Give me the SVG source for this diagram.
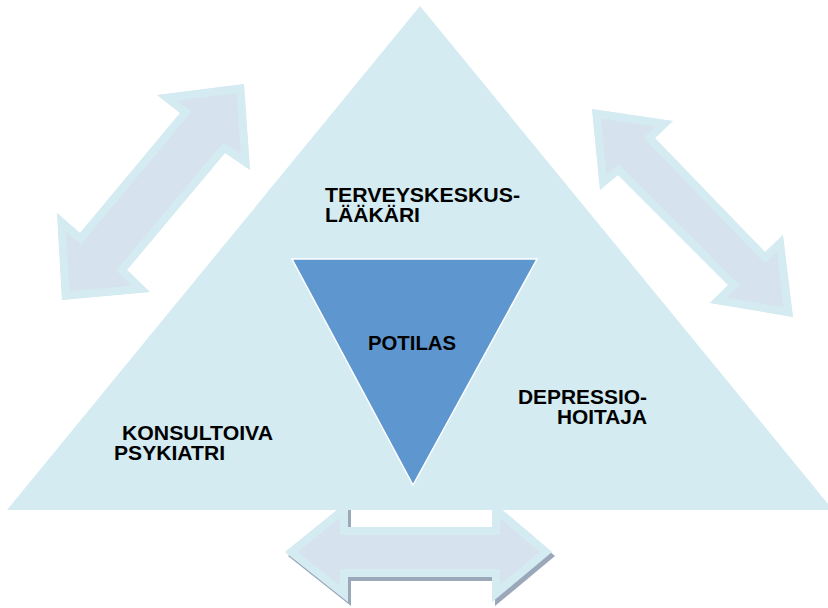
<svg xmlns="http://www.w3.org/2000/svg" width="828" height="608" viewBox="0 0 828 608">
<style>
.lbl{font-family:"Liberation Sans",Arial,sans-serif;font-weight:bold;font-size:20px;fill:#000}
.arrowFill{fill:#d6e3ef;stroke:#d3ebf1;stroke-width:16;stroke-linejoin:miter}
</style>
<defs>
<polygon id="pl" points="244,84 250,170 225,153 127,270 150,292 62,300 57,213 80,233 180,113 157,95"/>
<polygon id="pr" points="592,109 673,121 655,138 765,252 783,235 793,317 710,303 728,285 618,175 600,190"/>
<polygon id="pb" points="285,552 348,501 348,527 492,527 492,501 552,552 492,602 492,577 348,577 348,602"/>
<clipPath id="cl"><polygon points="244,84 250,170 225,153 127,270 150,292 62,300 57,213 80,233 180,113 157,95"/></clipPath>
<clipPath id="cr"><polygon points="592,109 673,121 655,138 765,252 783,235 793,317 710,303 728,285 618,175 600,190"/></clipPath>
<clipPath id="cb"><polygon points="285,552 348,501 348,527 492,527 492,501 552,552 492,602 492,577 348,577 348,602"/></clipPath>
</defs>
<g id="connectors">
<g id="arrow-bottom">
<use href="#pb" transform="translate(3,4)" fill="#9aa8ba"/>
<use href="#pb" class="arrowFill" clip-path="url(#cb)"/>
</g>
<g id="arrow-left">
<use href="#pl" class="arrowFill" clip-path="url(#cl)"/>
</g>
<g id="arrow-right">
<use href="#pr" class="arrowFill" clip-path="url(#cr)"/>
</g>
</g>
<g id="outer-triangle">
<polygon points="420,6 7,510 833,510" fill="#d3ebf1"/>
</g>
<g id="node-terveyskeskuslaakari">
<text class="lbl" x="325" y="202" textLength="195" lengthAdjust="spacingAndGlyphs">TERVEYSKESKUS-</text>
<text class="lbl" x="325" y="222" textLength="95" lengthAdjust="spacingAndGlyphs">LÄÄKÄRI</text>
</g>
<g id="node-potilas">
<polygon points="292,259 537,259 413,485" fill="#5e97cf" stroke="#ffffff" stroke-width="1.5"/>
<text class="lbl" x="368" y="350" textLength="88" lengthAdjust="spacingAndGlyphs">POTILAS</text>
</g>
<g id="node-depressiohoitaja">
<text class="lbl" x="518" y="404" textLength="129" lengthAdjust="spacingAndGlyphs">DEPRESSIO-</text>
<text class="lbl" x="557" y="424" textLength="90" lengthAdjust="spacingAndGlyphs">HOITAJA</text>
</g>
<g id="node-konsultoivapsykiatri">
<text class="lbl" x="122" y="440" textLength="151" lengthAdjust="spacingAndGlyphs">KONSULTOIVA</text>
<text class="lbl" x="114" y="460" textLength="111" lengthAdjust="spacingAndGlyphs">PSYKIATRI</text>
</g>
</svg>
